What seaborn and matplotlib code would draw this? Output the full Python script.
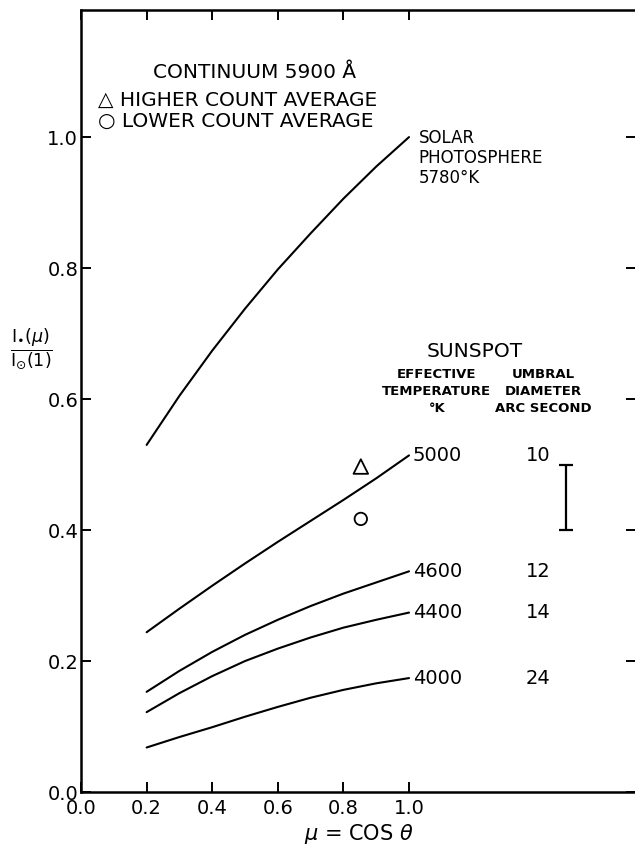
import numpy as np
import pandas as pd
import matplotlib
matplotlib.use('Agg')
import matplotlib.pyplot as plt
import seaborn as sns

# values
mu = [0.2, 0.3, 0.4, 0.5, 0.6, 0.7, 0.8, 0.9, 1.0]
solar_5780 = [0.530, 0.605, 0.674, 0.738, 0.798, 0.853, 0.906, 0.955, 1.000]
spot_5000 = [0.244, 0.280, 0.315, 0.349, 0.382, 0.414, 0.446, 0.479, 0.514]
spot_4600 = [0.153, 0.185, 0.214, 0.240, 0.263, 0.284, 0.303, 0.320, 0.337]
spot_4400 = [0.122, 0.151, 0.177, 0.200, 0.219, 0.236, 0.251, 0.263, 0.274]
spot_4000 = [0.068, 0.084, 0.099, 0.115, 0.130, 0.144, 0.156, 0.166, 0.174]

spot_temps = ['5000', '4600', '4400', '4000']
umbral_diam = ['10', '12', '14', '24']

obs_mu = [0.853]
higher_count = [0.497]
lower_count = [0.417]

errbar_mu = [1.48]
errbar_low = [0.40]
errbar_high = [0.50]

xticks = [0.0, 0.2, 0.4, 0.6, 0.8, 1.0]
yticks = [0.0, 0.2, 0.4, 0.6, 0.8, 1.0]

sns.set_style('ticks')
plt.rcParams['font.family'] = ['DejaVu Sans']
plt.rcParams['mathtext.fontset'] = 'dejavusans'
plt.rcParams['text.color'] = 'black'
plt.rcParams['axes.labelcolor'] = 'black'

fig = plt.figure(figsize=(6.35, 8.57), dpi=100)
ax = fig.add_axes([0.1276, 0.0758, 0.8740, 0.9125])

curves = {'5780': solar_5780, '5000': spot_5000, '4600': spot_4600,
          '4400': spot_4400, '4000': spot_4000}
df = pd.DataFrame([(name, m, v) for name, vals in curves.items() for m, v in zip(mu, vals)],
                  columns=['curve', 'mu', 'ratio'])
for name in curves:
    sub = df[df['curve'] == name]
    sns.lineplot(data=sub, x='mu', y='ratio', color='black', lw=1.5, ax=ax,
                 sort=False, estimator=None)

sns.scatterplot(x=obs_mu, y=higher_count, marker='^', s=110, fc='none', ec='black',
                linewidth=1.3, ax=ax, zorder=3)
sns.scatterplot(x=obs_mu, y=lower_count, marker='o', s=80, fc='none', ec='black',
                linewidth=1.3, ax=ax, zorder=3)

mid = [(a + b) / 2 for a, b in zip(errbar_low, errbar_high)]
half = [(b - a) / 2 for a, b in zip(errbar_low, errbar_high)]
ax.errorbar(errbar_mu, mid, yerr=half, fmt='none', ecolor='black',
            elinewidth=1.6, capsize=5, capthick=1.6)

# curve labels at the end of each sunspot curve
for name, diam in zip(spot_temps, umbral_diam):
    yv = curves[name][-1]
    ax.text(1.012, yv, name, ha='left', va='center', fontsize=14)
    ax.text(1.355, yv, diam, ha='left', va='center', fontsize=14)

ax.text(1.03, 1.012, 'SOLAR\nPHOTOSPHERE\n5780°K', ha='left', va='top',
        fontsize=12, linespacing=1.15)
ax.text(1.20, 0.672, 'SUNSPOT', ha='center', va='center', fontsize=14.5)
ax.text(1.085, 0.611, 'EFFECTIVE\nTEMPERATURE\n°K', ha='center', va='center',
        fontsize=9.5, fontweight='bold', linespacing=1.4)
ax.text(1.41, 0.611, 'UMBRAL\nDIAMETER\nARC SECOND', ha='center', va='center',
        fontsize=9.5, fontweight='bold', linespacing=1.4)

ax.text(0.53, 1.099, 'CONTINUUM 5900 Å', ha='center', va='center', fontsize=14.5)
ax.text(0.052, 1.056, '△ HIGHER COUNT AVERAGE', ha='left', va='center', fontsize=14.5)
ax.text(0.052, 1.024, '○ LOWER COUNT AVERAGE', ha='left', va='center', fontsize=14.5)

ax.set_xlim(0, 1.692)
ax.set_ylim(0, 1.194)
ax.set_xticks(xticks)
ax.set_yticks(yticks)
ax.set_xticklabels([f'{t:.1f}' for t in xticks])
ax.set_yticklabels([f'{t:.1f}' for t in yticks])
ax.tick_params(direction='in', length=7, width=1.4, labelsize=14, pad=2,
               top=True, right=True, colors='black')
ax.tick_params(axis='x', pad=5)
for s in ax.spines.values():
    s.set_linewidth(1.8)
    s.set_color('black')

ax.set_xlabel(r'$\mu$ = COS $\theta$', fontsize=15, labelpad=3)
ax.set_ylabel(r'$\frac{\mathrm{I}_{\bullet}(\mu)}{\mathrm{I}_{\odot}(1)}$', fontsize=18,
              rotation=0, va='center', ha='center')
ax.yaxis.set_label_coords(-0.09, 0.565)

fig.savefig('out.png', dpi=100)
